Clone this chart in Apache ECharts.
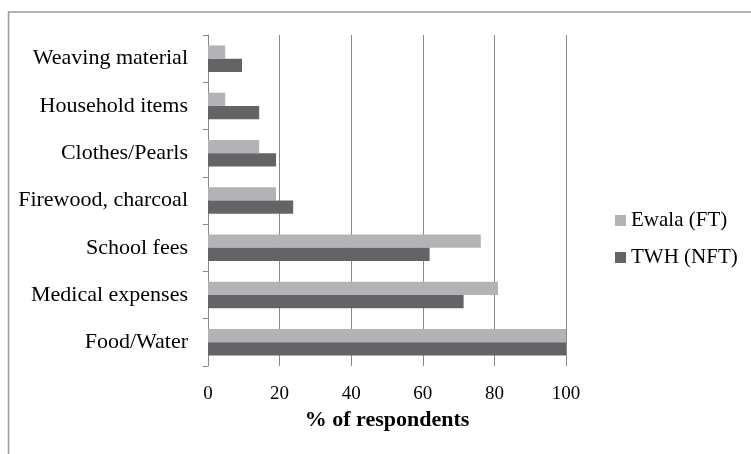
<!DOCTYPE html>
<html><head><meta charset="utf-8">
<script src="https://cdn.jsdelivr.net/npm/echarts@6/dist/echarts.min.js"></script>
<style>html,body{margin:0;padding:0;background:#fff}#c{width:751px;height:454px}</style>
</head><body><div id="c"></div>
<script>
const categories = ["Weaving material","Household items","Clothes/Pearls","Firewood, charcoal","School fees","Medical expenses","Food/Water"];
const ewala = [4.8, 4.8, 14.3, 19.0, 76.2, 81.0, 100];
const twh = [9.5, 14.3, 19.0, 23.8, 61.9, 71.4, 100];
const seriesNames = ["Ewala (FT)", "TWH (NFT)"];
const xTicks = [0, 20, 40, 60, 80, 100];

const font = "'Liberation Serif', 'DejaVu Serif', serif";
const chart = echarts.init(document.getElementById('c'), null, {renderer:'canvas'});
chart.setOption({
  animation:false,
  backgroundColor:'#fff',
  textStyle:{fontFamily:font},
  graphic:[{type:'rect', shape:{x:8.5,y:12,width:800,height:500}, style:{fill:'none', stroke:'#999', lineWidth:1.5}, silent:true, z:-1}],
  grid:{left:208, right:185, top:35, bottom:88, containLabel:false},
  legend:{
    orient:'vertical', left:615, top:210, itemWidth:11, itemHeight:11, itemGap:16, icon:'rect', padding:0,
    textStyle:{fontFamily:font, fontSize:21, lineHeight:21, color:'#000'},
    data:seriesNames
  },
  xAxis:{
    type:'value', min:xTicks[0], max:xTicks[xTicks.length-1], interval:20,
    name:'% of respondents', nameLocation:'middle', nameGap:40,
    nameTextStyle:{fontFamily:font, fontSize:22, fontWeight:'bold', color:'#000'},
    axisLine:{show:false}, axisTick:{show:false},
    axisLabel:{fontFamily:font, fontSize:19, color:'#000', margin:19},
    splitLine:{show:true, lineStyle:{color:'#888', width:1}}
  },
  yAxis:{
    type:'category', data:categories, inverse:true,
    axisLine:{show:true, lineStyle:{color:'#888', width:1}},
    axisTick:{show:true, length:5, inside:false, lineStyle:{color:'#888'}},
    axisLabel:{fontFamily:font, fontSize:22, color:'#000', margin:20}
  },
  series:[
    {name:seriesNames[0], type:'bar', data:ewala, barGap:'0%', barCategoryGap:'44%', itemStyle:{color:'#b3b3b6'}},
    {name:seriesNames[1], type:'bar', data:twh, barGap:'0%', barCategoryGap:'44%', itemStyle:{color:'#646466'}}
  ]
});
</script></body></html>
